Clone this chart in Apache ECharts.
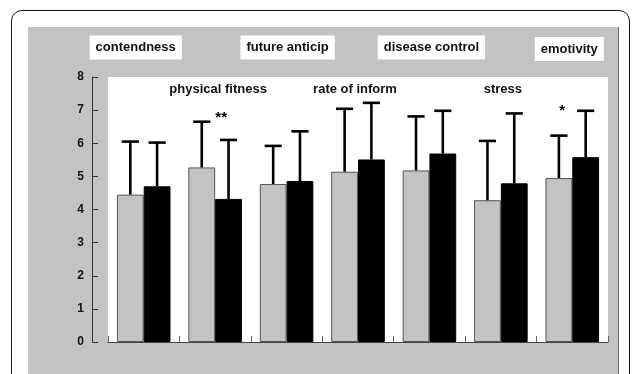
<!DOCTYPE html>
<html>
<head>
<meta charset="utf-8">
<script src="https://cdn.jsdelivr.net/npm/echarts@6/dist/echarts.min.js"></script>
<style>
  html, body { margin: 0; padding: 0; background: #fff; }
  #wrap { position: relative; width: 632px; height: 374px; overflow: hidden; }
  #frame { position: absolute; left: 11px; top: 10px; width: 619px; height: 430px;
           border: 1.5px solid #1a1a1a; border-radius: 11px; box-sizing: border-box; }
  #panel { position: absolute; left: 28px; top: 27px; width: 591px; height: 420px;
           background: #c3c3c3; border-right: 1px solid #6e6e6e; box-sizing: border-box; }
  #chart { position: absolute; left: 0; top: 0; width: 632px; height: 374px; }
</style>
</head>
<body>
<div id="wrap">
  <div id="frame"></div>
  <div id="panel"></div>
  <div id="chart"></div>
</div>
<script>
// Quality-of-life dimensions
const categories = ['contendness', 'physical fitness', 'future anticip', 'rate of inform',
                    'disease control', 'stress', 'emotivity'];

// Group means and standard deviations (light bars / dark bars)
const lightMean = [4.45, 5.27, 4.77, 5.14, 5.18, 4.28, 4.95];
const lightSD   = [1.60, 1.38, 1.15, 1.90, 1.63, 1.79, 1.28];
const darkMean  = [4.70, 4.32, 4.86, 5.51, 5.69, 4.79, 5.58];
const darkSD    = [1.32, 1.78, 1.50, 1.71, 1.29, 2.11, 1.40];

// Significance markers per dimension
const significance = ['', '**', '', '', '', '', '*'];

// Value axis ticks
const yMin = 0, yMax = 8, yStep = 1;

const FONT = '"Liberation Sans", Arial, sans-serif';
const CAT_GAP = 0.25;                       // share of band left empty
const BAR_SHARE = (1 - CAT_GAP) / 2;        // each bar's share of a band

const chart = echarts.init(document.getElementById('chart'), null, { renderer: 'canvas' });

function errorBar(side) {
  return function (params, api) {
    const i = api.value(0);
    const mean = api.value(1);
    const sd = api.value(2);
    const band = api.size([1, 0])[0];
    const base = api.coord([i, mean]);
    const top = api.coord([i, mean + sd]);
    const x = base[0] + side * band * BAR_SHARE / 2;
    const cap = band * 0.24;
    const style = { stroke: '#000', lineWidth: 2.6 };
    return {
      type: 'group',
      children: [
        { type: 'line', shape: { x1: x, y1: base[1], x2: x, y2: top[1] }, style },
        { type: 'line', shape: { x1: x - cap / 2, y1: top[1], x2: x + cap / 2, y2: top[1] }, style }
      ]
    };
  };
}

// Small nudges (px) so the asterisks sit beside the error caps
const markNudge = { 1: [6, -4], 6: [-10, 0] };

function sigMark(params, api) {
  const i = api.value(0);
  const text = significance[i];
  if (!text) return null;
  const hi = Math.max(lightMean[i] + lightSD[i], darkMean[i] + darkSD[i]);
  const p = api.coord([i, hi]);
  const n = markNudge[i] || [0, 0];
  return {
    type: 'text',
    x: p[0] + n[0],
    y: p[1] + n[1],
    style: {
      text: text, fill: '#000', font: 'bold 15px ' + FONT,
      align: 'center', verticalAlign: 'middle'
    }
  };
}

// Dimension names: even ones boxed above the plot, odd ones inside its top edge.
// Nudges (px) keep each name where it was laid out by hand.
const labelNudge = [[-8, 0], [3, 0], [1, 0], [-3, 0], [2, 0], [2, 0], [-3, 1.5]];

function dimensionLabel(params, api) {
  const i = api.value(0);
  const p = api.coord([i, yMax]);
  const n = labelNudge[i];
  const boxed = i % 2 === 0;
  return {
    type: 'text',
    x: p[0] + n[0],
    y: p[1] + (boxed ? -29.5 : 12) + n[1],
    style: {
      text: categories[i], fill: '#111', font: 'bold 13px ' + FONT,
      align: 'center', verticalAlign: 'middle',
      backgroundColor: boxed ? '#fff' : null,
      padding: boxed ? [6, 6, 5, 6] : 0
    }
  };
}

chart.setOption({
  animation: false,
  grid: {
    left: 108, right: 24, top: 77, bottom: 32,
    show: true, backgroundColor: '#fff', borderWidth: 0
  },
  xAxis: {
    type: 'category', data: categories, position: 'bottom', boundaryGap: true,
    axisLine: { show: true, lineStyle: { color: '#444', width: 1 } },
    axisTick: { show: true, inside: true, length: 6, interval: 0, lineStyle: { color: '#666' } },
    axisLabel: { show: false }, splitLine: { show: false }
  },
  yAxis: {
    type: 'value', min: yMin, max: yMax, interval: yStep, offset: 16,
    axisLine: { show: true, lineStyle: { color: '#333', width: 1 } },
    axisTick: { show: true, inside: true, length: 6, lineStyle: { color: '#333' } },
    axisLabel: { margin: 8, fontFamily: FONT, fontWeight: 'bold', fontSize: 12, color: '#111' },
    splitLine: { show: false }
  },
  series: [
    {
      type: 'bar', data: lightMean, barGap: '0%', barCategoryGap: (CAT_GAP * 100) + '%',
      itemStyle: { color: '#c3c3c3', borderColor: '#555', borderWidth: 1 }, z: 2
    },
    {
      type: 'bar', data: darkMean, barGap: '0%', barCategoryGap: (CAT_GAP * 100) + '%',
      itemStyle: { color: '#000', borderColor: '#000', borderWidth: 1 }, z: 2
    },
    {
      type: 'custom', renderItem: errorBar(-1), z: 3,
      data: lightMean.map((m, i) => [i, m, lightSD[i]]), encode: { x: 0, y: 1 }
    },
    {
      type: 'custom', renderItem: errorBar(1), z: 3,
      data: darkMean.map((m, i) => [i, m, darkSD[i]]), encode: { x: 0, y: 1 }
    },
    {
      type: 'custom', renderItem: sigMark, z: 4, clip: false,
      data: categories.map((c, i) => [i, 0]), encode: { x: 0, y: 1 }
    },
    {
      type: 'custom', renderItem: dimensionLabel, z: 4, clip: false, silent: true,
      data: categories.map((c, i) => [i, 0]), encode: { x: 0, y: 1 }
    }
  ]
});
</script>
</body>
</html>
